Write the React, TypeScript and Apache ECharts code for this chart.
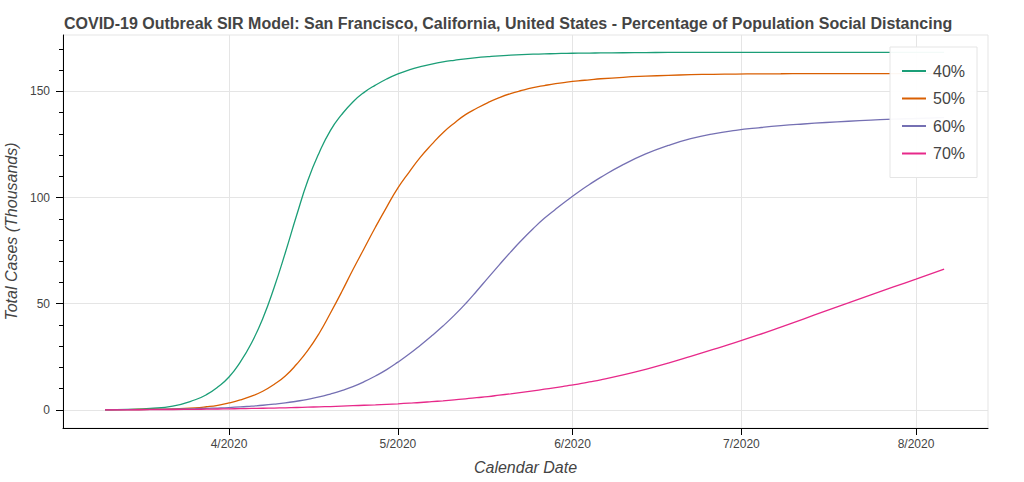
import React, { useEffect, useRef } from "react";
import * as echarts from "echarts";

const dates = [
  "2020-03-10", "2020-03-14", "2020-03-18", "2020-03-22", "2020-03-26",
  "2020-03-28", "2020-03-30", "2020-04-01", "2020-04-03", "2020-04-05", "2020-04-07",
  "2020-04-09", "2020-04-11", "2020-04-13", "2020-04-15",
  "2020-04-17", "2020-04-19", "2020-04-21", "2020-04-23", "2020-04-25", "2020-04-27",
  "2020-04-29", "2020-05-01", "2020-05-03", "2020-05-05",
  "2020-05-07", "2020-05-09", "2020-05-11", "2020-05-13", "2020-05-15", "2020-05-17",
  "2020-05-19", "2020-05-21", "2020-05-23", "2020-05-25",
  "2020-05-27", "2020-05-29", "2020-05-31", "2020-06-02", "2020-06-04", "2020-06-06",
  "2020-06-10", "2020-06-14", "2020-06-18", "2020-06-22", "2020-06-26", "2020-06-30",
  "2020-07-04", "2020-07-08", "2020-07-12", "2020-07-16", "2020-07-20", "2020-07-24",
  "2020-07-28", "2020-08-01",
  "2020-08-06",
];

const seriesNames = ["40%", "50%", "60%", "70%"];

const cases40 = [
  0, 0.25, 0.7, 1.8, 4.8,
  7.2, 10.8, 15.5, 22.5, 31.5, 43, 57.5, 74, 91.5, 108,
  121, 131.5, 139, 145, 149.5, 152.9, 155.8, 158.2, 160.1, 161.6,
  162.8, 163.8, 164.6, 165.3, 165.85, 166.3, 166.7, 167.0, 167.25, 167.45,
  167.6, 167.75, 167.85, 167.95, 168.0, 168.05,
  168.15, 168.2, 168.3, 168.3, 168.3, 168.3, 168.3, 168.3, 168.3, 168.3, 168.3, 168.3, 168.3, 168.3,
  168.3,
];

const cases50 = [
  0, 0.15, 0.3, 0.5, 1.0,
  1.5, 2.2, 3.3, 4.7, 6.5, 8.8, 12, 16, 21.5, 28,
  36, 45.5, 55.5, 66, 76, 86, 95.5, 104.5, 112, 119,
  125, 130.5, 135, 139, 142, 144.7, 147, 148.9, 150.4, 151.7,
  152.7, 153.6, 154.3, 154.9, 155.4, 155.9,
  156.6, 157.1, 157.5, 157.8, 158.0, 158.1, 158.2, 158.25, 158.3, 158.3, 158.3, 158.3, 158.3, 158.3,
  158.3,
];

const cases60 = [
  0.05, 0.15, 0.25, 0.4, 0.6,
  0.75, 0.9, 1.1, 1.4, 1.8, 2.2, 2.7, 3.3, 4.1, 5.0,
  6.1, 7.5, 9.1, 11, 13.3, 16, 19, 22.5, 26.3, 30.5,
  34.9, 39.5, 44.5, 50, 56, 62.2, 68.3, 74.3, 80, 85.3,
  90.2, 94.5, 98.6, 102.5, 106.1, 109.5,
  115.5, 120.5, 124.5, 127.7, 130, 131.6, 132.8, 133.8, 134.6, 135.3, 135.9, 136.4, 136.9, 137.2,
  137.6,
];

const cases70 = [
  0, 0.05, 0.12, 0.2, 0.3,
  0.37, 0.45, 0.52, 0.6, 0.7, 0.8, 0.9, 1.0, 1.15, 1.3,
  1.45, 1.6, 1.8, 2.0, 2.2, 2.4, 2.65, 2.9, 3.2, 3.5,
  3.9, 4.3, 4.75, 5.2, 5.75, 6.3, 6.95, 7.6, 8.3, 9.0,
  9.75, 10.5, 11.35, 12.2, 13.2, 14.2,
  16.5, 19.1, 22.0, 25.2, 28.5, 31.8, 35.3, 39.0, 42.8, 46.6, 50.4, 54.2, 57.9, 61.6,
  66.3,
];

const monthTicks = ["2020-04-01", "2020-05-01", "2020-06-01", "2020-07-01", "2020-08-01"];
const yMajorTicks = [0, 50, 100, 150];
const yMinorTicks = [10, 20, 30, 40, 60, 70, 80, 90, 110, 120, 130, 140, 160, 170];

const colors = ["#1b9e77", "#d95f02", "#7570b3", "#e7298a"];

const toTs = (s: string) => {
  const [y, m, d] = s.split("-").map(Number);
  return Date.UTC(y, m - 1, d);
};

const FONT = "'Liberation Sans', Arial, Helvetica, sans-serif";
const TEXT = "#444444";

export default function App() {
  const ref = useRef<HTMLDivElement>(null);

  useEffect(() => {
    if (!ref.current) return;
    const chart = echarts.init(ref.current, undefined, { renderer: "svg" });
    const allSeries = [cases40, cases50, cases60, cases70];
    const monthTs = monthTicks.map(toTs);

    chart.setOption({
      animation: false,
      backgroundColor: "#ffffff",
      textStyle: { fontFamily: FONT },
      title: {
        text: "COVID-19 Outbreak SIR Model: San Francisco, California, United States - Percentage of Population Social Distancing",
        left: 59,
        top: 10,
        textStyle: { fontSize: 16, fontWeight: "bold", color: TEXT, fontFamily: FONT },
      },
      grid: {
        left: 63,
        right: 36,
        top: 35,
        bottom: 54,
        show: true,
        borderColor: "#e5e5e5",
        borderWidth: 1,
        outerBoundsMode: "none",
      },
      legend: {
        orient: "vertical",
        left: 890,
        top: 47,
        padding: [16, 12, 16, 12],
        itemWidth: 24,
        itemHeight: 2,
        itemGap: 11.5,
        icon: "rect",
        backgroundColor: "rgba(255,255,255,0.95)",
        borderColor: "#e5e5e5",
        borderWidth: 1,
        borderRadius: 0,
        data: seriesNames,
        textStyle: {
          fontSize: 16,
          lineHeight: 16,
          color: TEXT,
          fontFamily: FONT,
          padding: [0, 0, 0, 2],
        },
      },
      xAxis: {
        type: "value",
        min: Date.UTC(2020, 2, 2, 12, 30),
        max: Date.UTC(2020, 7, 13, 19, 0),
        name: "Calendar Date",
        nameLocation: "middle",
        nameGap: 31,
        nameTextStyle: { fontSize: 16, fontStyle: "italic", color: TEXT, fontFamily: FONT },
        axisLine: { show: true, onZero: false, lineStyle: { color: "#000000", width: 1 } },
        axisTick: { show: true, length: 7, customValues: monthTs, lineStyle: { color: "#000000" } },
        axisLabel: {
          customValues: monthTs,
          margin: 10,
          fontSize: 12,
          color: TEXT,
          fontFamily: FONT,
          formatter: (v: number) => {
            const d = new Date(v);
            return `${d.getUTCMonth() + 1}/${d.getUTCFullYear()}`;
          },
        },
        splitLine: { show: true, lineStyle: { color: "#e5e5e5", width: 1 } },
      },
      yAxis: [
        {
          type: "value",
          min: -8.5,
          max: 176.5,
          splitNumber: 4,
          name: "Total Cases (Thousands)",
          nameLocation: "middle",
          nameGap: 38,
          nameTextStyle: { fontSize: 16, fontStyle: "italic", color: TEXT, fontFamily: FONT },
          axisLine: { show: true, onZero: false, lineStyle: { color: "#000000", width: 1 } },
          axisTick: { show: true, length: 7, customValues: yMajorTicks, lineStyle: { color: "#000000" } },
          axisLabel: {
            customValues: yMajorTicks,
            margin: 13,
            fontSize: 12,
            color: TEXT,
            fontFamily: FONT,
          },
          splitLine: { show: true, lineStyle: { color: "#e5e5e5", width: 1 } },
        },
        {
          type: "value",
          min: -8.5,
          max: 176.5,
          position: "left",
          axisLine: { show: false },
          axisTick: { show: true, length: 4, customValues: yMinorTicks, lineStyle: { color: "#000000" } },
          axisLabel: { show: false },
          splitLine: { show: false },
        },
      ],
      series: allSeries.map((vals, i) => ({
        name: seriesNames[i],
        type: "line",
        yAxisIndex: 0,
        color: colors[i],
        showSymbol: false,
        symbol: "none",
        smooth: 0.5,
        lineStyle: { width: 1.3, color: colors[i] },
        data: dates.map((d, j) => [toTs(d), vals[j]]),
        z: 2,
      })),
    });

    return () => chart.dispose();
  }, []);

  return (
    <div
      ref={ref}
      style={{ position: "fixed", left: 0, top: 0, width: 1024, height: 482, background: "#fff" }}
    />
  );
}
